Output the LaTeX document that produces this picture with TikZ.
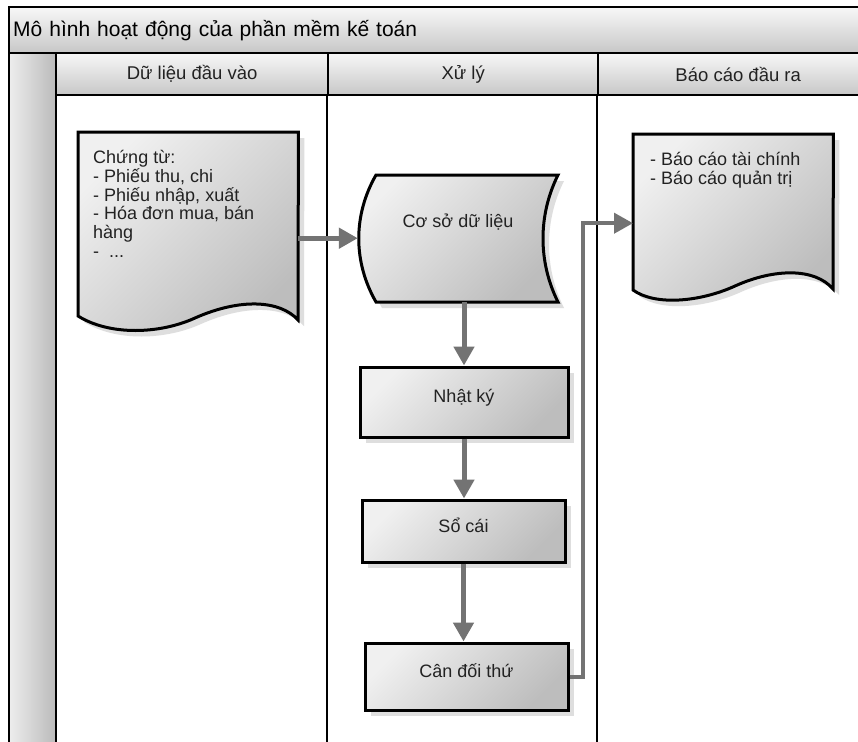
\documentclass[tikz,border=0pt]{standalone}
\usepackage{fontspec}
\setmainfont{Liberation Sans}
\usetikzlibrary{arrows.meta,shadows,calc}
\definecolor{arrgray}{HTML}{737373}
\definecolor{txt}{HTML}{222222}
\begin{document}
\begin{tikzpicture}[x=1pt,y=-1pt,
  shapefill/.style={top color=black!6, bottom color=black!26, shading angle=45, draw=black, line width=3pt, line join=miter},
  shadowed/.style={drop shadow={shadow xshift=6pt, shadow yshift=-6pt, fill=black!13, opacity=1}},
  procbox/.style={shapefill, shadowed, rectangle, text=txt, font=\fontsize{18}{20}\selectfont, text depth=12pt, inner sep=0pt},
  ghost/.style={rectangle, inner sep=0pt, draw=none},
  flow/.style={draw=arrgray, line width=5pt, line join=miter, -{Triangle[length=19pt,width=20pt]}},
  headcell/.style={top color=black!3, bottom color=black!22, draw=black, line width=2.4pt, rectangle, inner sep=0pt, anchor=north west, text=txt, font=\fontsize{18.5}{22}\selectfont},
  bodytext/.style={text=txt, font=\fontsize{18}{18.8}\selectfont, align=left, inner sep=0pt, anchor=north west},
  laneline/.style={draw=black, line width=2.6pt}
]
\useasboundingbox (0,0) rectangle (858,741);
\fill[white] (0,0) rectangle (858,741);

% swimlane frame
\node[headcell, minimum width=860pt, minimum height=46pt, text width=852pt, inner xsep=3pt, align=left, text=black, font=\fontsize{21}{24}\selectfont] (title) at (8,6) {Mô hình hoạt động của phần mềm kế toán};
\node[rectangle, left color=black!7, right color=black!27, draw=black, line width=2.4pt, anchor=north west, minimum width=47pt, minimum height=720pt, inner sep=0pt] (lc) at (8,52) {};
\node[headcell, minimum width=272pt, minimum height=42pt] (h1) at (55,52) {Dữ liệu đầu vào};
\node[headcell, minimum width=270pt, minimum height=42pt] (h2) at (327,52) {Xử lý};
\node[headcell, minimum width=280pt, minimum height=42pt] (h3) at (597,52) {Báo cáo đầu ra};
\draw[laneline] (h2.south west) -- ++(0,680);
\draw[laneline] (h3.south west) -- ++(0,680);

% input document
\node[ghost, minimum width=220pt, minimum height=212pt, anchor=north west] (doc1) at (78,132) {};
\path[shapefill, shadowed] (doc1.north west) -- (doc1.north east) -- (298,320)
  .. controls (280,300) and (240,298) .. (195,318)
  .. controls (160,334) and (110,336) .. (78,316) -- cycle;
\node[bodytext] (doc1text) at (93,150) {Chứng từ:\\- Phiếu thu, chi\\- Phiếu nhập, xuất\\- Hóa đơn mua, bán\\hàng\\-\ \ ...};

% database
\node[ghost, minimum width=200pt, minimum height=127pt] (db) at (458,238.5) {};
\path[shapefill, shadowed] (376,175) -- (558,175)
  .. controls (538,215) and (538,262) .. (558,302) -- (376,302)
  .. controls (353,262) and (353,215) .. (376,175) -- cycle;
\node[text=txt, font=\fontsize{18}{20}\selectfont, inner sep=0pt] (dbtext) at (458,222) {Cơ sở dữ liệu};

% process boxes
\node[procbox, minimum width=208pt, minimum height=70pt] (nk) at (464,402) {Nhật ký};
\node[procbox, minimum width=203pt, minimum height=62pt] (sc) at (463.5,531) {Sổ cái};
\node[procbox, minimum width=203pt, minimum height=67pt] (cd) at (466.5,676.5) {Cân đối thứ};

% output document
\node[ghost, minimum width=200pt, minimum height=178pt, anchor=north west] (doc3) at (633,134) {};
\path[shapefill, shadowed] (doc3.north west) -- (doc3.north east) -- (833,289)
  .. controls (815,268) and (775,268) .. (735,286)
  .. controls (700,302) and (655,306) .. (633,290) -- cycle;
\node[bodytext] (doc3text) at (650,152) {- Báo cáo tài chính\\- Báo cáo quản trị};

% connectors
\draw[flow] (doc1.east) -- (doc1.east -| db.west);
\draw[flow] (db.south -| nk.north) -- (nk.north);
\draw[flow] (nk.south) -- (nk.south |- sc.north);
\draw[flow] (sc.south) -- (sc.south |- cd.north);
\draw[flow, line width=4pt] (cd.east) -- ++(13,0) |- (doc3.west);
\end{tikzpicture}
\end{document}
